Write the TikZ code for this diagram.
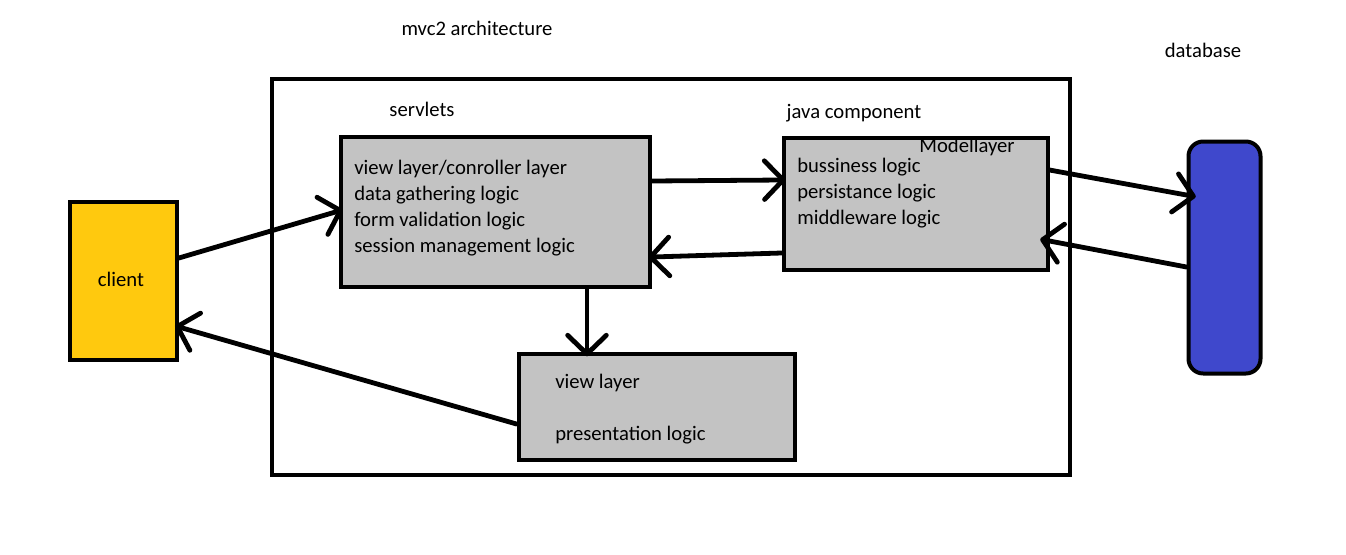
\documentclass[tikz,border=0pt]{standalone}
\usepackage{fontspec}
\setmainfont{Carlito}
\usetikzlibrary{arrows.meta}
\definecolor{clientyellow}{HTML}{FFC90E}
\definecolor{boxgray}{HTML}{C3C3C3}
\definecolor{dbblue}{HTML}{3F48CC}
\begin{document}
\begin{tikzpicture}[x=0.75pt,y=-0.75pt,
  box/.style={draw, line width=3pt, inner sep=0pt},
  arr/.style={line width=3.6pt, line cap=round, shorten >=-3pt, -{Straight Barb[length=14pt,width=29pt,round]}},
  txt/.style={font=\fontsize{15.5}{19.5}\selectfont, inner sep=0pt, align=left}]
\useasboundingbox (0,0) rectangle (1346,554);
\node[box, minimum width=598pt, minimum height=297pt] (outer) at (671,277) {};
\node[box, fill=clientyellow, minimum width=80pt, minimum height=118pt] (client) at (123.5,281) {};
\node[txt] (clientlab) at (121,279) {client};
\node[box, fill=boxgray, minimum width=232pt, minimum height=113pt] (servlets) at (495.5,212) {};
\node[box, fill=boxgray, minimum width=198pt, minimum height=99pt] (java) at (915.5,203.5) {};
\node[box, fill=boxgray, minimum width=207pt, minimum height=79pt] (view) at (656.5,407) {};
\node[box, fill=dbblue, rounded corners=11pt, minimum width=54pt, minimum height=174pt] (db) at (1224.5,257.5) {};
\node[txt] (title) at (477,28) {mvc2 architecture};
\node[txt] (servlab) at (422,109) {servlets};
\node[txt] (javalab) at (854,113) {java component};
\node[txt] (dblab) at (1203,50) {database};
\node[txt] (modlab) at (967,147) {Modellayer};
\node[txt, anchor=west] (servtext) at (354,208) {view layer/conroller layer\\data gathering logic\\form validation logic\\session management logic};
\node[txt, anchor=west] (javatext) at (797,193) {bussiness logic\\persistance logic\\middleware logic};
\node[txt, anchor=west] (viewtext) at (555,409) {view layer\\[19.5pt]presentation logic};
\draw[arr] (client.east |- 0,258) -- (servlets.west |- 0,211);
\draw[arr] (servlets.east |- 0,181) -- (java.west |- 0,180);
\draw[arr] (java.west |- 0,253) -- (servlets.east |- 0,257);
\draw[arr] (servlets.south -| 587,0) -- (view.north -| 587,0);
\draw[arr] (view.west |- 0,424) -- (client.east |- 0,327);
\draw[arr] (java.east |- 0,170) -- ([xshift=4pt]db.west |- 0,196);
\draw[arr] (db.west |- 0,267) -- ([xshift=-4pt]java.east |- 0,240);
\end{tikzpicture}
\end{document}
